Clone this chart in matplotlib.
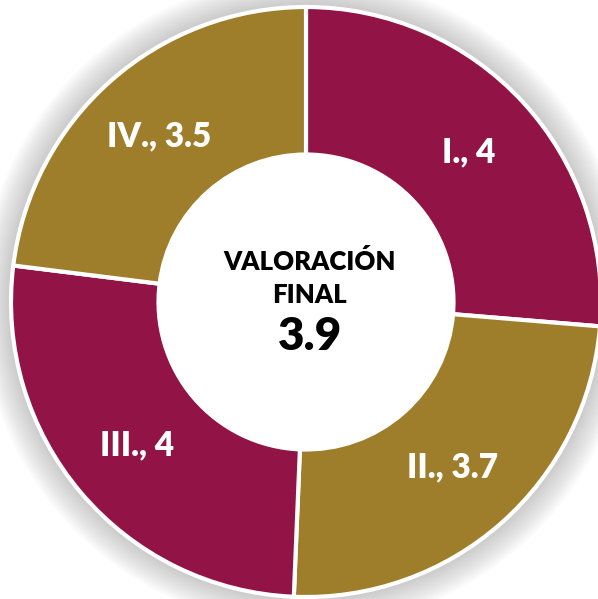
import matplotlib
matplotlib.use('Agg')
import matplotlib.pyplot as plt
from matplotlib.patches import Circle

# data
labels = ['I.', 'II.', 'III.', 'IV.']
values = [4, 3.7, 4, 3.5]
final_value = 3.9
colors = ['#921346', '#9E7E2A', '#921346', '#9E7E2A']

plt.rcParams['font.family'] = ['Lato', 'DejaVu Sans']

fig = plt.figure(figsize=(5.98, 5.99), dpi=100)
ax = fig.add_axes([0, 0, 1, 1])

cx, cy, R = 306, 297, 295

# soft shadow around the ring
for k in range(1, 13):
    ax.add_patch(Circle((cx, cy), R + k * 2.5, facecolor='#777777',
                        alpha=0.035, edgecolor='none', zorder=0))
# keep the hole white
ax.add_patch(Circle((cx, cy), R * 0.5, facecolor='white', edgecolor='none', zorder=0.5))

wedges, texts = ax.pie(values, labels=[f'{l}, {v:g}' for l, v in zip(labels, values)],
                       colors=colors, startangle=90, counterclock=False,
                       center=(cx, cy), radius=R, labeldistance=0.75,
                       wedgeprops=dict(width=R * 0.5, edgecolor='white', linewidth=3),
                       textprops=dict(color='white', fontsize=24, fontweight='heavy'),
                       frame=True)
for t in texts:
    t.set_ha('center')
    t.set_va('center')

ax.set_xlim(0, 598)
ax.set_ylim(0, 599)
ax.set_aspect('equal')
ax.axis('off')

ax.text(cx + 4, cy + 40, 'VALORACIÓN', ha='center', va='center',
        fontsize=18.5, fontweight='heavy', color='black')
ax.text(cx + 4, cy + 7, 'FINAL', ha='center', va='center',
        fontsize=18.5, fontweight='heavy', color='black')
ax.text(cx + 4, cy - 34, f'{final_value}', ha='center', va='center',
        fontsize=33, fontweight='heavy', color='black')

plt.savefig('out.png', dpi=100)
plt.close()
